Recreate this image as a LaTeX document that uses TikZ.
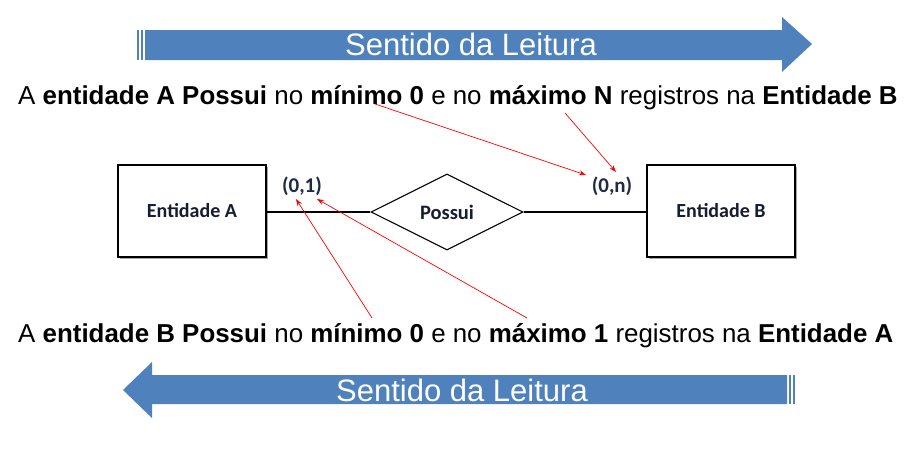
\documentclass[tikz,border=0pt]{standalone}
\usepackage{fontspec}
\setmainfont{Liberation Sans}
\newfontfamily\calib{Carlito}
\usetikzlibrary{shapes.geometric,arrows.meta}
\definecolor{arrowblue}{HTML}{4F81BD}
\definecolor{labelnavy}{HTML}{1F2A44}
\tikzset{
  bigarrow/.style={fill=arrowblue,draw=none},
  banner/.style={text=white,font=\fontsize{31}{33}\selectfont,inner sep=0pt},
  sentence/.style={font=\fontsize{25.9}{28}\selectfont,inner sep=0pt,anchor=base west},
  entity/.style={draw=black,line width=1.3pt,fill=white,minimum width=148pt,minimum height=92pt,font=\calib\bfseries\fontsize{20}{22}\selectfont,text=labelnavy!70!black,
    preaction={fill=black!35,draw=none,transform canvas={shift={(2pt,-2pt)}}}},
  relation/.style={draw=black,line width=1.1pt,diamond,aspect=2,minimum width=152pt,minimum height=76pt,inner sep=0pt,font=\calib\bfseries\fontsize{20.5}{22}\selectfont,text=labelnavy!70!black},
  card/.style={font=\calib\bfseries\fontsize{21}{23}\selectfont,text=labelnavy,inner sep=0pt},
  conn/.style={draw=black,line width=1.1pt},
  pointer/.style={draw=red,line width=0.7pt,-{Stealth[length=7pt,width=5pt]}}
}
\begin{document}
\begin{tikzpicture}[x=1pt,y=-1pt]
\useasboundingbox (0,0) rectangle (913,453);
% top arrow
\fill[arrowblue] (137,30) rectangle (139,60);
\fill[arrowblue] (141,30) rectangle (143,60);
\path[bigarrow] (145,30) -- (782,30) -- (782,17) -- (812,44) -- (782,72) -- (782,60) -- (145,60) -- cycle;
\node[banner] (topbanner) at (471,44) {Sentido da Leitura};
% bottom arrow
\fill[arrowblue] (789,375) rectangle (791,404);
\fill[arrowblue] (793,375) rectangle (795,404);
\path[bigarrow] (787,375) -- (152,375) -- (152,362) -- (123,390) -- (152,418) -- (152,404) -- (787,404) -- cycle;
\node[banner] (botbanner) at (462,390) {Sentido da Leitura};
% sentences
\node[sentence] (s1) at (18,104) {A \textbf{entidade A Possui} no \textbf{mínimo 0} e no \textbf{máximo N} registros na \textbf{Entidade B}};
\node[sentence] (s2) at (18,342) {A \textbf{entidade B Possui} no \textbf{mínimo 0} e no \textbf{máximo 1} registros na \textbf{Entidade A}};
% ER diagram
\node[entity] (ea) at (192,211) {Entidade A};
\node[entity] (eb) at (721,211) {Entidade B};
\node[relation] (rel) at (447,212) {Possui};
\draw[conn] (ea.east |- rel.west) -- (rel.west);
\draw[conn] (rel.east) -- (eb.west |- rel.east);
\node[card] (c1) at (302,186) {(0,1)};
\node[card] (cn) at (612,186) {(0,n)};
% pointers
\coordinate (p1s) at (375,104);
\coordinate (p1e) at (586,175);
\coordinate (p2s) at (565,113);
\coordinate (p2e) at (616,172);
\coordinate (p3s) at (372,318);
\coordinate (p3e) at (296,199);
\coordinate (p4s) at (527,318);
\coordinate (p4e) at (317,199);
\draw[pointer] (p1s) -- (p1e);
\draw[pointer] (p2s) -- (p2e);
\draw[pointer] (p3s) -- (p3e);
\draw[pointer] (p4s) -- (p4e);
\end{tikzpicture}
\end{document}
